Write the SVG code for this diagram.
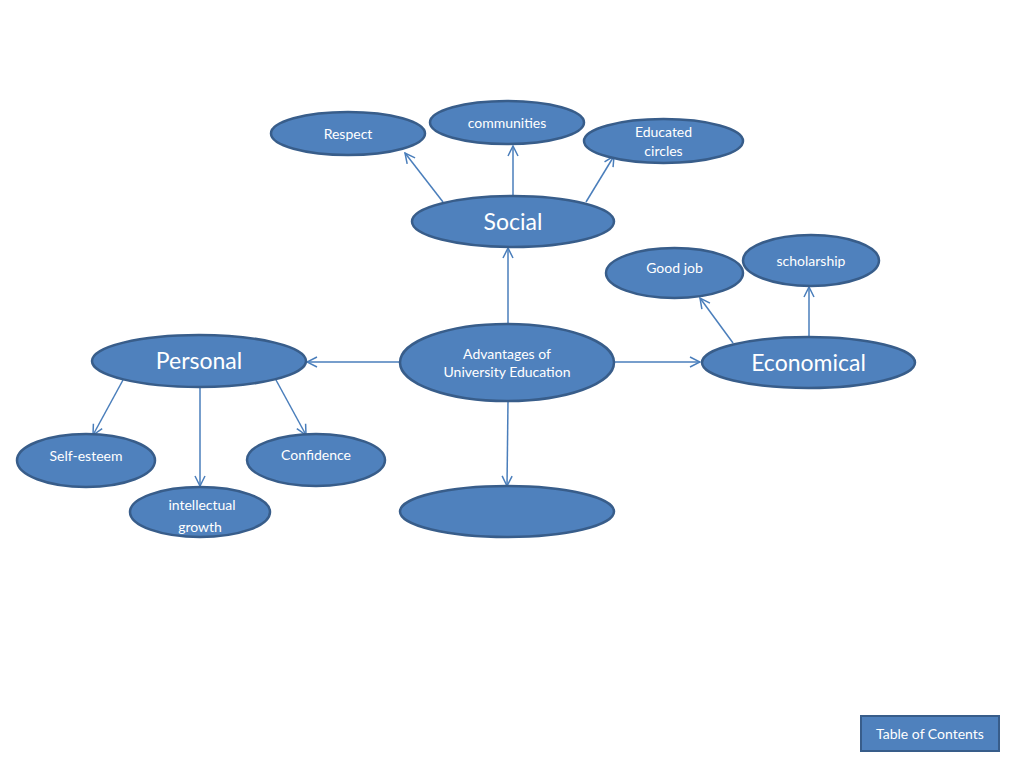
<svg xmlns="http://www.w3.org/2000/svg" width="1024" height="768" viewBox="0 0 1024 768">
<style>
.n{fill:#4f81bd;stroke:#385d8a;stroke-width:2.5}
.t{fill:#ffffff;font-family:Lato,"Liberation Sans",sans-serif;text-anchor:middle}
.s{font-size:14px}
.b{font-size:23px}
.c{stroke:#4a7ebb;stroke-width:1.5;fill:none;marker-end:url(#a)}
</style>
<defs>
<marker id="a" viewBox="0 0 12 12" refX="11" refY="6" markerWidth="12" markerHeight="12" markerUnits="userSpaceOnUse" orient="auto">
<path d="M1,1 L11,6 L1,11" fill="none" stroke="#4a7ebb" stroke-width="1.5"/>
</marker>
</defs>
<rect width="1024" height="768" fill="#ffffff"/>
<g id="connectors">
<line class="c" x1="443" y1="202" x2="405" y2="153"/>
<line class="c" x1="513" y1="196" x2="513" y2="146"/>
<line class="c" x1="586" y1="202" x2="614" y2="156"/>
<line class="c" x1="508" y1="324" x2="508" y2="248"/>
<line class="c" x1="400" y1="362" x2="307" y2="362"/>
<line class="c" x1="614" y1="362" x2="700" y2="362"/>
<line class="c" x1="508" y1="401" x2="507" y2="486"/>
<line class="c" x1="733" y1="343" x2="700" y2="298"/>
<line class="c" x1="809" y1="337" x2="809" y2="287"/>
<line class="c" x1="123" y1="380" x2="93" y2="435"/>
<line class="c" x1="200" y1="387" x2="200" y2="486"/>
<line class="c" x1="276" y1="380" x2="306" y2="435"/>
</g>
<g id="respect"><ellipse class="n" cx="348" cy="133.5" rx="77" ry="21.5"/><text class="t s" x="348" y="139">Respect</text></g>
<g id="communities"><ellipse class="n" cx="507" cy="122.5" rx="77" ry="21.5"/><text class="t s" x="507" y="128">communities</text></g>
<g id="educated"><ellipse class="n" cx="663.5" cy="141" rx="79.5" ry="22"/><text class="t s" x="663.5" y="137">Educated</text><text class="t s" x="663.5" y="156">circles</text></g>
<g id="social"><ellipse class="n" cx="513" cy="221.5" rx="101" ry="25.5"/><text class="t b" x="513" y="230">Social</text></g>
<g id="goodjob"><ellipse class="n" cx="674.5" cy="273" rx="68.5" ry="25"/><text class="t s" x="674.5" y="273">Good job</text></g>
<g id="scholarship"><ellipse class="n" cx="811" cy="260.5" rx="68" ry="25.5"/><text class="t s" x="811" y="266">scholarship</text></g>
<g id="personal"><ellipse class="n" cx="199" cy="361" rx="107" ry="26"/><text class="t b" x="199" y="369">Personal</text></g>
<g id="advantages"><ellipse class="n" cx="507" cy="362.5" rx="107" ry="38.5"/><text class="t s" x="507" y="359">Advantages of</text><text class="t s" x="507" y="377">University Education</text></g>
<g id="economical"><ellipse class="n" cx="808.5" cy="362.5" rx="106.5" ry="25.5"/><text class="t b" x="808.5" y="371">Economical</text></g>
<g id="selfesteem"><ellipse class="n" cx="86" cy="460.5" rx="69" ry="26.5"/><text class="t s" x="86" y="461">Self-esteem</text></g>
<g id="confidence"><ellipse class="n" cx="316" cy="460" rx="69" ry="26"/><text class="t s" x="316" y="460">Confidence</text></g>
<g id="intellectual"><ellipse class="n" cx="200" cy="512" rx="70" ry="25"/><text class="t s" x="202" y="510">intellectual</text><text class="t s" x="200" y="532">growth</text></g>
<g id="blank"><ellipse class="n" cx="507" cy="511.5" rx="107" ry="25.5"/></g>
<g id="toc"><rect x="861" y="716" width="138" height="35" fill="#4f81bd" stroke="#385d8a" stroke-width="2"/><text class="t s" x="930" y="739">Table of Contents</text></g>
</svg>
